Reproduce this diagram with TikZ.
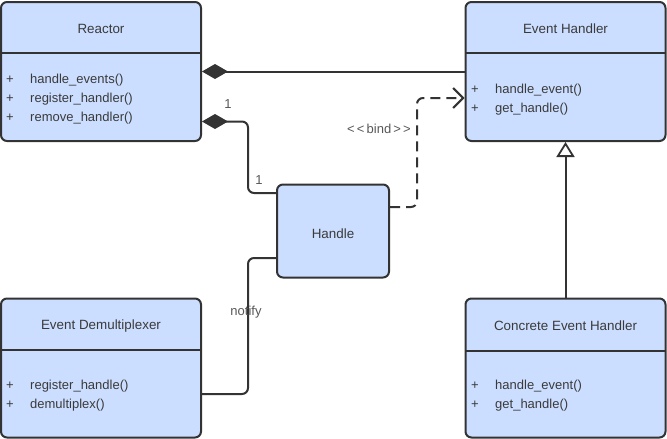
\documentclass[tikz,border=0pt]{standalone}
\usepackage{fontspec}
\setmainfont{Liberation Sans}
\usetikzlibrary{arrows.meta}
\definecolor{boxfill}{HTML}{CCDEFF}
\definecolor{ink}{HTML}{333333}
\definecolor{txt}{HTML}{3A3A3A}
\begin{document}
\begin{tikzpicture}[x=1pt,y=-1pt,
  cls/.style={draw=ink,line width=2pt,fill=boxfill,rounded corners=6pt,inner sep=0pt},
  title/.style={font=\fontsize{13.4}{15}\selectfont,text=txt},
  meth/.style={font=\fontsize{13}{15}\selectfont,text=txt,anchor=west,inner sep=0pt},
  lbl/.style={font=\fontsize{13}{15}\selectfont,text=txt!85},
  conn/.style={draw=ink,line width=2pt,rounded corners=6pt},
  divider/.style={draw=ink,line width=2.6pt}]
\useasboundingbox (0,0) rectangle (667,439);
% Reactor
\node[cls,minimum width=200pt,minimum height=139pt] (reactor) at (101,71.5) {};
\draw[divider] (1,53) -- (201,53);
\node[title] (reactorT) at (101,29) {Reactor};
\node[meth] (r1p) at (6,80) {+};
\node[meth] (r1) at (30,80) {handle\_events()};
\node[meth] (r2p) at (6,99) {+};
\node[meth] (r2) at (30,99) {register\_handler()};
\node[meth] (r3p) at (6,118) {+};
\node[meth] (r3) at (30,118) {remove\_handler()};
% Event Handler
\node[cls,minimum width=200pt,minimum height=139pt] (eh) at (565.5,71.5) {};
\draw[divider] (465.5,53) -- (665.5,53);
\node[title] (ehT) at (565.5,29) {Event Handler};
\node[meth] (e1p) at (471,90) {+};
\node[meth] (e1) at (495,90) {handle\_event()};
\node[meth] (e2p) at (471,109) {+};
\node[meth] (e2) at (495,109) {get\_handle()};
% Event Demultiplexer
\node[cls,minimum width=200pt,minimum height=139pt] (demux) at (101,368) {};
\draw[divider] (1,350) -- (201,350);
\node[title] (demuxT) at (101,326) {Event Demultiplexer};
\node[meth] (d1p) at (6,386) {+};
\node[meth] (d1) at (30,386) {register\_handle()};
\node[meth] (d2p) at (6,405) {+};
\node[meth] (d2) at (30,405) {demultiplex()};
% Concrete Event Handler
\node[cls,minimum width=200pt,minimum height=139pt] (ceh) at (565.5,368) {};
\draw[divider] (465.5,351) -- (665.5,351);
\node[title] (cehT) at (565.5,326) {Concrete Event Handler};
\node[meth] (c1p) at (471,386) {+};
\node[meth] (c1) at (495,386) {handle\_event()};
\node[meth] (c2p) at (471,405) {+};
\node[meth] (c2) at (495,405) {get\_handle()};
% Handle
\node[cls,minimum width=112pt,minimum height=93pt] (handle) at (333,231) {};
\node[title] (handleT) at (333,234) {Handle};
% connectors
\draw[conn,{Diamond[length=26pt,width=15pt,fill=ink]}-] (reactor.east) -- (eh.west);
\draw[conn,{Diamond[length=26pt,width=15pt,fill=ink]}-] ([yshift=-50pt]reactor.east) -- (248,121.5) |- ([yshift=38pt]handle.west);
\draw[conn,dashed,dash pattern=on 10pt off 6pt,-{Straight Barb[length=10pt,width=20pt,line width=2pt]}] ([yshift=24pt]handle.east) -- (417,207) |- ([yshift=-26.5pt]eh.west);
\draw[conn] ([yshift=-26pt]demux.east) -- (248,394) |- ([yshift=-27pt]handle.west);
\draw[conn,-{Triangle[open,length=15pt,width=18pt,fill=white,line width=1.8pt]}] (ceh.north) -- (eh.south);
% labels
\node[lbl] (one1) at (228,104) {1};
\node[lbl] (one2) at (259,180) {1};
\node[lbl] (bind) at (379,129) {<\,<\,bind\,>\,>};
\node[lbl] (notify) at (246,312) {notify};
\end{tikzpicture}
\end{document}
